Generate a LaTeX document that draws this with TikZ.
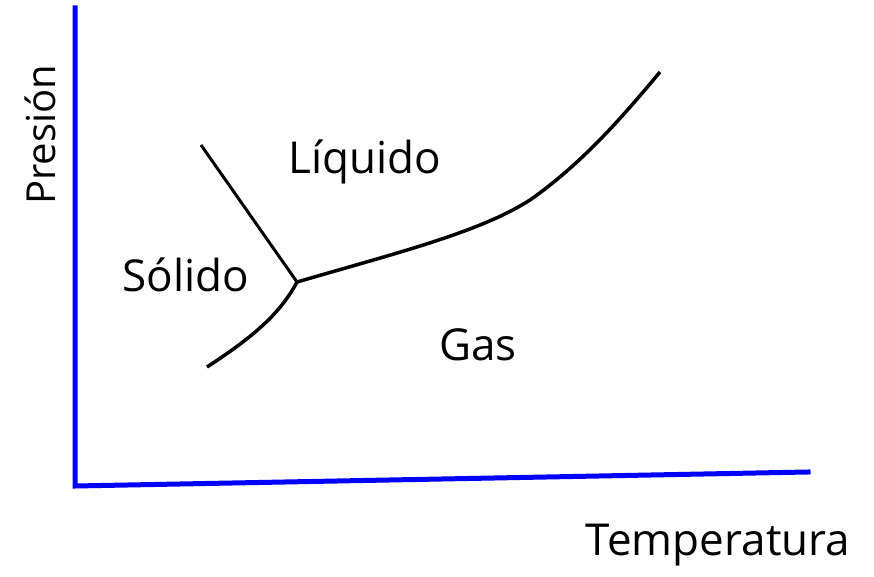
\documentclass[tikz,border=0pt]{standalone}
\usepackage{fontspec}
\setmainfont{Open Sans}
\usepackage{tikz}
\definecolor{axisBlue}{RGB}{0, 0, 255}

\begin{document}
\begin{tikzpicture}[x=1pt, y=-1pt,
    axisline/.style={axisBlue, line width=5pt},
    phaseline/.style={black, line width=3.5pt},
    phaselabel/.style={font=\fontsize{44}{50}\selectfont},
    axislabel/.style={font=\fontsize{44}{50}\selectfont}]
      \useasboundingbox (0,0) rectangle (874,577);

      % Axes
      \coordinate (top) at (75,8);
      \coordinate (origin) at (75,486);
      \coordinate (right) at (808,472);
      \draw[axisline, line cap=rect] (top) -- (origin) -- (right);

      % Axis labels
      \node[axislabel, rotate=90, font=\fontsize{40}{46}\selectfont] (pres) at (40,135) {Presión};
      \node[axislabel] (temp) at (718,545) {Temperatura};

      % Triple point and curve ends
      \coordinate (tp) at (297,282);
      \coordinate (fus) at (201,145);
      \coordinate (sub) at (207,367);
      \coordinate (vap) at (660,72);

      % Fusion line
      \draw[phaseline, line width=3pt] (fus) -- (tp);

      % Sublimation curve
      \draw[phaseline] (sub) .. controls (245,342) and (278,318) .. (tp);

      % Vaporization curve
      \draw[phaseline] (tp) .. controls (400,252) and (480,232) .. (530,200)
        .. controls (580,165) and (620,120) .. (vap);

      % Phase regions
      \node[phaselabel] (liq) at (365,162) {Líquido};
      \node[phaselabel] (sol) at (186,275) {Sólido};
      \node[phaselabel] (gas) at (478,345) {Gas};
    \end{tikzpicture}
\end{document}
